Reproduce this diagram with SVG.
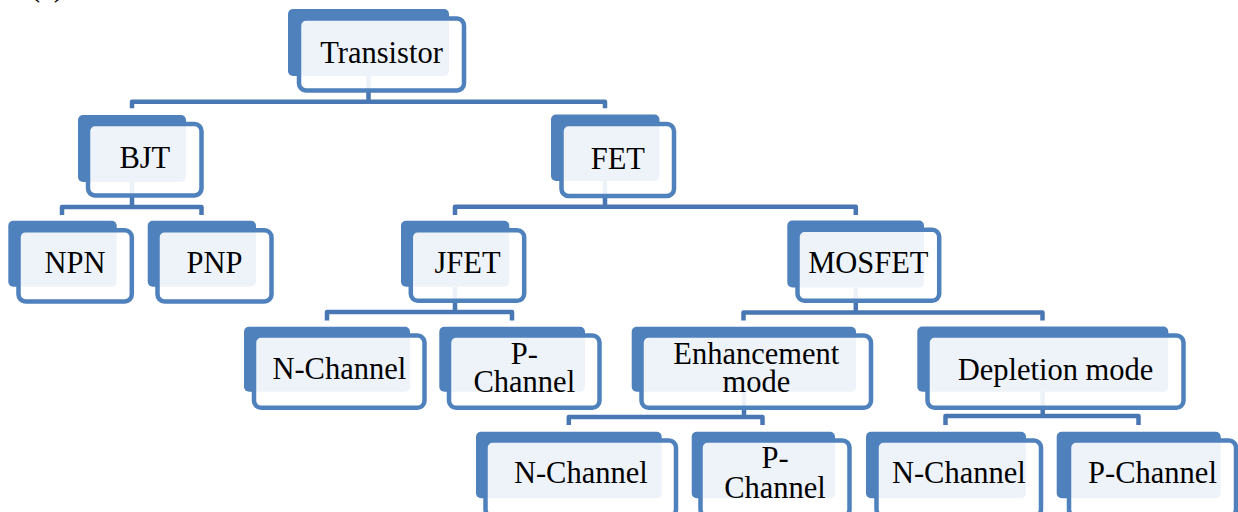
<svg xmlns="http://www.w3.org/2000/svg" width="1238" height="512" viewBox="0 0 1238 512">
<style>
.bk{fill:#4f81bd}
.fr{fill:#ffffff;fill-opacity:0.9;stroke:#4f81bd;stroke-width:4.5}
.cn{fill:none;stroke:#4877b3;stroke-width:4.5;stroke-linejoin:round}
text{font-family:"Liberation Serif","Times New Roman",serif;font-size:30.5px;fill:#000;text-anchor:middle}
</style>
<rect width="1238" height="512" fill="#ffffff"/>
<text x="47" y="-4" style="text-anchor:middle">(a)</text>
<g id="connectors">
<path class="cn" d="M368.5,76 V101.7 M132,108.3 V101.7 H605 V108.3"/>
<path class="cn" d="M132,182 V207 M62,215 V207 H201.5 V215"/>
<path class="cn" d="M605,181 V206.7 M455,215 V206.7 H855.8 V215"/>
<path class="cn" d="M455,287 V312 M327,320.5 V312 H512 V320.5"/>
<path class="cn" d="M855.8,287.5 V312.5 M743.5,320.5 V312.5 H1042.5 V320.5"/>
<path class="cn" d="M744,391.7 V417 M568.8,425 V417 H762.5 V425"/>
<path class="cn" d="M1042.7,391.7 V416 M945.5,425 V416 H1138.5 V425"/>
</g>
<g id="transistor">
<rect class="bk" x="288" y="9" width="161" height="67" rx="5"/>
<rect class="fr" x="299" y="18.5" width="165" height="72" rx="7"/>
<text x="381.5" y="63">Transistor</text>
</g>
<g id="bjt">
<rect class="bk" x="78" y="115" width="108" height="67" rx="5"/>
<rect class="fr" x="88" y="124" width="113.5" height="71.5" rx="7"/>
<text x="144.8" y="168">BJT</text>
</g>
<g id="fet">
<rect class="bk" x="551" y="114.5" width="108.5" height="66.5" rx="5"/>
<rect class="fr" x="561.5" y="124" width="112.5" height="72" rx="7"/>
<text x="617.8" y="169">FET</text>
</g>
<g id="npn">
<rect class="bk" x="8.3" y="220.7" width="108.4" height="66" rx="5"/>
<rect class="fr" x="18.5" y="230.2" width="113.3" height="71.3" rx="7"/>
<text x="75.1" y="273.3">NPN</text>
</g>
<g id="pnp">
<rect class="bk" x="147.7" y="220.7" width="108.3" height="66" rx="5"/>
<rect class="fr" x="157.5" y="230.2" width="114" height="71.3" rx="7"/>
<text x="214.5" y="273.3">PNP</text>
</g>
<g id="jfet">
<rect class="bk" x="401" y="220.7" width="108.3" height="66" rx="5"/>
<rect class="fr" x="410.8" y="230.2" width="113.4" height="70.6" rx="7"/>
<text x="467.5" y="273.3">JFET</text>
</g>
<g id="mosfet">
<rect class="bk" x="787.3" y="220.5" width="136.7" height="67" rx="5"/>
<rect class="fr" x="797.5" y="229.8" width="141.7" height="71" rx="7"/>
<text x="868.3" y="273.3">MOSFET</text>
</g>
<g id="jfet-n-channel">
<rect class="bk" x="244" y="326.7" width="166" height="65" rx="5"/>
<rect class="fr" x="254" y="335.5" width="170.5" height="72.3" rx="7"/>
<text x="339.3" y="379">N-Channel</text>
</g>
<g id="jfet-p-channel">
<rect class="bk" x="439.3" y="326.7" width="145.7" height="65" rx="5"/>
<rect class="fr" x="449" y="335.5" width="150.5" height="72.3" rx="7"/>
<text x="524.3" y="363.8">P-</text>
<text x="524.3" y="391.7">Channel</text>
</g>
<g id="enhancement-mode">
<rect class="bk" x="631.7" y="326.7" width="224.3" height="65" rx="5"/>
<rect class="fr" x="641.5" y="335.5" width="229.5" height="72.3" rx="7"/>
<text x="756.3" y="364.3">Enhancement</text>
<text x="756.3" y="391.7">mode</text>
</g>
<g id="depletion-mode">
<rect class="bk" x="917.3" y="326.5" width="251" height="65.2" rx="5"/>
<rect class="fr" x="927.5" y="335.5" width="256" height="72.3" rx="7"/>
<text x="1055.5" y="380">Depletion mode</text>
</g>
<g id="enh-n-channel">
<rect class="bk" x="476" y="431.7" width="185.7" height="66.6" rx="5"/>
<rect class="fr" x="485.5" y="440.5" width="190.5" height="76" rx="7"/>
<text x="580.8" y="483.3">N-Channel</text>
</g>
<g id="enh-p-channel">
<rect class="bk" x="691.7" y="431.7" width="143.3" height="66.6" rx="5"/>
<rect class="fr" x="700.5" y="440.5" width="149" height="76" rx="7"/>
<text x="775" y="468.3">P-</text>
<text x="775" y="497.5">Channel</text>
</g>
<g id="dep-n-channel">
<rect class="bk" x="866" y="431.7" width="160" height="66.6" rx="5"/>
<rect class="fr" x="876.5" y="440.5" width="164.5" height="76" rx="7"/>
<text x="958.8" y="483.3">N-Channel</text>
</g>
<g id="dep-p-channel">
<rect class="bk" x="1056.7" y="431.7" width="164" height="66.6" rx="5"/>
<rect class="fr" x="1069" y="440.5" width="167" height="76" rx="7"/>
<text x="1152.5" y="483.3">P-Channel</text>
</g>
</svg>
